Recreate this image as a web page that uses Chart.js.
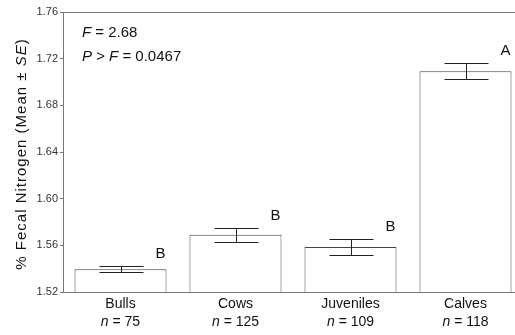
<!DOCTYPE html>
<html>
<head>
<meta charset="utf-8">
<script src="https://cdn.jsdelivr.net/npm/chart.js@4"></script>
<style>
  html, body { margin: 0; padding: 0; background: #fff; overflow: hidden; }
  #wrap { width: 523px; height: 335px; }
</style>
</head>
<body>
<div id="wrap"><canvas id="c" width="523" height="335"></canvas></div>
<script>
// Fecal nitrogen by age/sex class
const categories = ['Bulls', 'Cows', 'Juveniles', 'Calves'];
const sampleSizes = [75, 125, 109, 118];
const means = [1.5395, 1.569, 1.5586, 1.7092];
const stdErrors = [0.0025, 0.0062, 0.0066, 0.0068];
const groupLetters = ['B', 'B', 'B', 'A'];
const yTicks = [1.52, 1.56, 1.60, 1.64, 1.68, 1.72, 1.76];
const fStat = '2.68';
const pValue = '0.0467';

const FONT = '"Liberation Sans", Arial, Helvetica, sans-serif';
const AXIS_GREY = '#777';
const INK = '#222';

const annotate = {
  id: 'annotate',
  afterDatasetsDraw(chart) {
    const ctx = chart.ctx;
    const { left, right, top, bottom } = chart.chartArea;
    const x = chart.scales.x, y = chart.scales.y;
    const meta = chart.getDatasetMeta(0);
    ctx.save();

    // top frame line
    ctx.strokeStyle = AXIS_GREY;
    ctx.lineWidth = 1;
    ctx.beginPath();
    ctx.moveTo(left, top + 0.5);
    ctx.lineTo(right, top + 0.5);
    ctx.stroke();

    // error bars and group letters
    meta.data.forEach((bar, i) => {
      const cx = Math.round(bar.x) + 0.5;
      const yHi = Math.round(y.getPixelForValue(means[i] + stdErrors[i])) + 0.5;
      const yLo = Math.round(y.getPixelForValue(means[i] - stdErrors[i])) + 0.5;
      const cap = 22;
      ctx.strokeStyle = INK;
      ctx.beginPath();
      ctx.moveTo(cx, yHi); ctx.lineTo(cx, yLo);
      ctx.moveTo(cx - cap, yHi); ctx.lineTo(cx + cap, yHi);
      ctx.moveTo(cx - cap, yLo); ctx.lineTo(cx + cap, yLo);
      ctx.stroke();

      ctx.fillStyle = '#111';
      ctx.font = '15px ' + FONT;
      ctx.textAlign = 'center';
      ctx.textBaseline = 'bottom';
      const barRight = bar.x + bar.width / 2;
      ctx.fillText(groupLetters[i], barRight - 6, yHi - 5);
    });

    // category labels with sample sizes
    ctx.fillStyle = '#111';
    ctx.textBaseline = 'middle';
    categories.forEach((name, i) => {
      const cx = x.getPixelForValue(i);
      ctx.textAlign = 'center';
      ctx.font = '14px ' + FONT;
      ctx.fillText(name, cx, bottom + 12);
      const rest = ' = ' + sampleSizes[i];
      ctx.font = 'italic 14px ' + FONT;
      const wN = ctx.measureText('n').width;
      ctx.font = '14px ' + FONT;
      const wR = ctx.measureText(rest).width;
      const x0 = cx - (wN + wR) / 2;
      ctx.textAlign = 'left';
      ctx.font = 'italic 14px ' + FONT;
      ctx.fillText('n', x0, bottom + 30);
      ctx.font = '14px ' + FONT;
      ctx.fillText(rest, x0 + wN, bottom + 30);
    });

    // run of mixed upright / italic text
    const pieces = (parts, px, py, size) => {
      let cur = px;
      parts.forEach(([txt, italic]) => {
        ctx.font = (italic ? 'italic ' : '') + size + 'px ' + FONT;
        ctx.fillText(txt, cur, py);
        cur += ctx.measureText(txt).width;
      });
      return cur;
    };

    // test statistics
    ctx.textAlign = 'left';
    pieces([['F', true], [' = ' + fStat, false]], left + 19, top + 21, 15);
    pieces([['P', true], [' > ', false], ['F', true], [' = ' + pValue, false]], left + 19, top + 45, 15);

    // y-axis title
    ctx.save();
    ctx.translate(22, (top + bottom) / 2 + 2);
    ctx.rotate(-Math.PI / 2);
    ctx.letterSpacing = '1px';
    const parts = [['% Fecal Nitrogen (Mean ', false], ['±', false], [' ', false], ['SE', true], [')', false]];
    let total = 0;
    parts.forEach(([t, it]) => { ctx.font = (it ? 'italic ' : '') + '15px ' + FONT; total += ctx.measureText(t).width; });
    ctx.textBaseline = 'middle';
    pieces(parts, -total / 2, 0, 15);
    ctx.restore();

    ctx.restore();
  }
};

new Chart(document.getElementById('c'), {
  type: 'bar',
  data: {
    labels: categories,
    datasets: [{
      data: means,
      backgroundColor: '#ffffff',
      borderColor: '#444',
      borderWidth: { top: 1, left: 1, right: 1, bottom: 0 },
      borderSkipped: 'bottom',
      categoryPercentage: 1.0,
      barPercentage: 0.8
    }]
  },
  options: {
    responsive: false,
    animation: false,
    events: [],
    layout: { padding: { top: 12, right: 0, left: 0, bottom: 0 } },
    plugins: { legend: { display: false }, tooltip: { enabled: false } },
    scales: {
      x: {
        ticks: { display: false },
        grid: { display: false },
        border: { display: true, color: AXIS_GREY },
        afterFit(s) { s.height = 43; }
      },
      y: {
        min: 1.52,
        max: 1.76,
        afterBuildTicks(s) { s.ticks = yTicks.map(v => ({ value: v })); },
        ticks: {
          color: '#333',
          font: { family: FONT, size: 11 },
          padding: 2,
          callback: v => v.toFixed(2)
        },
        grid: { drawOnChartArea: false, drawTicks: true, tickLength: 3, color: AXIS_GREY },
        border: { display: true, color: AXIS_GREY },
        afterFit(s) { s.width = 63; }
      }
    }
  },
  plugins: [annotate]
});
</script>
</body>
</html>
